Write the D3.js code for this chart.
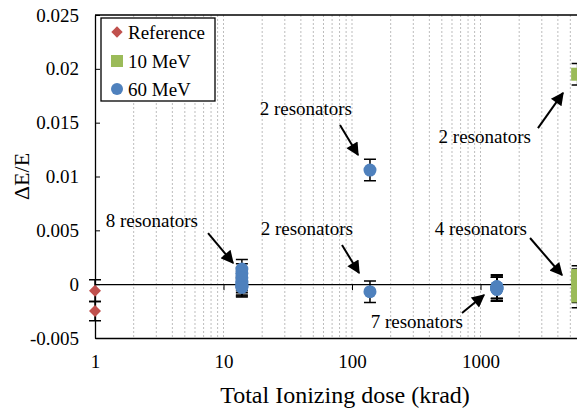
<!DOCTYPE html>
<html>
<head>
<meta charset="utf-8">
<script src="https://cdn.jsdelivr.net/npm/d3@7"></script>
<style>
  body { margin: 0; background: #fff; }
  svg { display: block; font-family: 'Liberation Serif', 'Times New Roman', serif; }
</style>
</head>
<body>
<div id="app"></div>
<script>
'use strict'

// Data
const referenceDose = [1, 1];
const referenceShift = [-0.0006, -0.0025];
const referenceError = [0.001, 0.0009];

const mev10Dose = [5700, 5700, 5700, 5700, 5700];
const mev10Shift = [0.0195, 0.0008, 0.0005, -0.0006, -0.0011];
const mev10Error = [0.001, 0.0009, 0.0009, 0.0011, 0.0011];

const mev60Dose = [13.9, 13.9, 13.9, 13.9, 13.9, 13.9, 13.9, 13.9,
                   138, 138,
                   1340, 1340, 1340, 1340, 1340, 1340, 1340];
const mev60Shift = [0.0014, 0.001, 0.0006, 0.0003, 0.0001, -0.0001, -0.0002, -0.0003,
                    0.0106, -0.0007,
                    -0.00024, -0.00024, -0.00024, -0.00046, -0.00046, -0.00046, -0.00046];
const mev60Error = [0.0009, 0.0009, 0.0009, 0.0009, 0.0009, 0.0009, 0.0009, 0.0009,
                    0.001, 0.001,
                    0.0011, 0.0011, 0.0011, 0.0011, 0.0011, 0.0011, 0.0011];

const xTicks = [1, 10, 100, 1000];
const yTicks = [-0.005, 0, 0.005, 0.01, 0.015, 0.02, 0.025];

const seriesNames = ['Reference', '10 MeV', '60 MeV'];

// Annotations, in data coordinates
const noteText = ['8 resonators', '2 resonators', '2 resonators',
                  '7 resonators', '2 resonators', '4 resonators'];
const noteDose = [6.33, 100, 101.8, 731, 2470, 2300];
const noteShift = [0.00531, 0.01571, 0.00457, -0.00407, 0.01311, 0.00457];
const arrowFromDose = [7.58, 80.6, 83.6, 718, 2800, 2430];
const arrowFromShift = [0.00475, 0.01478, 0.00364, -0.00268, 0.0145, 0.00429];
const arrowToDose = [11.86, 111.4, 113.4, 1065, 4385, 4307];
const arrowToShift = [0.00197, 0.012, 0.00104, -0.00101, 0.01776, 0.00085];


class Chart {
  constructor() {
    this._width = 577;
    this._height = 414;
    this._font = 19;
  }

  errorBars(svg, dose, shift, err, x, y) {
    let idx = d3.range(dose.length);
    (svg.append('g')
      .selectAll('path')
        .data(idx)
      .enter()
        .append('path')
          .attr('fill', 'none')
          .attr('stroke', '#000')
          .attr('stroke-width', 1.5)
          .attr('d', (i) => {
            let cx = x(dose[i]);
            let y0 = y(shift[i] - err[i]);
            let y1 = y(shift[i] + err[i]);
            return `M${cx},${y0}V${y1}M${cx - 6},${y0}H${cx + 6}M${cx - 6},${y1}H${cx + 6}`;
          })
    );
  }

  render() {
    let width = this._width;
    let height = this._height;
    let fs = this._font;

    let x = d3.scaleLog().domain([1, 10000]).range([95, 609]);
    let y = d3.scaleLinear().domain([-0.005, 0.025]).range([338, 15]);

    let svg = (
      d3.select('#app')
        .append('svg')
        .attr('width', width)
        .attr('height', height)
        .attr('font-family', 'Liberation Serif, Times New Roman, serif'));

    svg.append('defs').append('marker')
      .attr('id', 'head')
      .attr('viewBox', '0 0 10 10')
      .attr('refX', 9)
      .attr('refY', 5)
      .attr('markerUnits', 'userSpaceOnUse')
      .attr('markerWidth', 16)
      .attr('markerHeight', 13)
      .attr('orient', 'auto')
      .append('path')
        .attr('d', 'M0,0L10,5L0,10Z')
        .attr('fill', '#000');

    // Draw vertical dotted grid at log ticks
    let grid = [];
    [1, 10, 100, 1000].forEach((dec) => {
      for (let k = 1; k <= 9; k++) {
        if (dec * k > 1) grid.push(dec * k);
      }
    });
    (svg.append('g')
      .selectAll('line')
        .data(grid)
      .enter()
        .append('line')
          .attr('x1', (d) => x(d))
          .attr('x2', (d) => x(d))
          .attr('y1', y(0.025))
          .attr('y2', y(-0.005))
          .attr('stroke', '#bdbdbd')
          .attr('stroke-dasharray', '2,2')
    );

    // Top border
    svg.append('line')
      .attr('x1', x(1)).attr('x2', x(10000))
      .attr('y1', y(0.025)).attr('y2', y(0.025))
      .attr('stroke', '#000').attr('stroke-width', 1.3);

    // Bottom axis with labels
    let bottom = (svg.append('g')
      .attr('transform', `translate(0,${y(-0.005)})`)
      .call(d3.axisBottom(x).tickValues(xTicks).tickFormat((d) => d)
              .tickSize(0).tickSizeOuter(0).tickPadding(17)));
    bottom.attr('font-family', null);
    bottom.select('.domain').attr('stroke-width', 1.3);
    bottom.selectAll('text').attr('font-size', fs);

    // Zero line with major ticks
    let zero = (svg.append('g')
      .attr('transform', `translate(0,${y(0)})`)
      .call(d3.axisBottom(x).tickValues([10, 100, 1000]).tickFormat('')
              .tickSize(6).tickSizeOuter(0)));
    zero.select('.domain').attr('stroke-width', 1.3);

    // Left axis
    let left = (svg.append('g')
      .attr('transform', `translate(${x(1)},0)`)
      .call(d3.axisLeft(y).tickValues(yTicks).tickFormat((d) => String(d))
              .tickSize(-5).tickSizeOuter(0).tickPadding(16)));
    left.attr('font-family', null);
    left.select('.domain').attr('stroke-width', 1.3);
    left.selectAll('text').attr('font-size', fs);

    // Axis titles
    svg.append('text')
      .attr('x', 345).attr('y', 403)
      .attr('text-anchor', 'middle')
      .attr('font-size', 24)
      .text('Total Ionizing dose (krad)');
    svg.append('text')
      .attr('transform', `translate(29,${y(0.01)}) rotate(-90)`)
      .attr('text-anchor', 'middle')
      .attr('font-size', 22)
      .text('ΔE/E');

    // Error bars first, markers on top
    this.errorBars(svg, referenceDose, referenceShift, referenceError, x, y);
    this.errorBars(svg, mev60Dose, mev60Shift, mev60Error, x, y);
    this.errorBars(svg, mev10Dose, mev10Shift, mev10Error, x, y);

    (svg.append('g')
      .selectAll('path')
        .data(d3.range(referenceDose.length))
      .enter()
        .append('path')
          .attr('d', d3.symbol(d3.symbolSquare, 72)())
          .attr('transform', (i) => `translate(${x(referenceDose[i])},${y(referenceShift[i])}) rotate(45)`)
          .attr('fill', '#C0504D')
    );
    (svg.append('g')
      .selectAll('circle')
        .data(d3.range(mev60Dose.length))
      .enter()
        .append('circle')
          .attr('cx', (i) => x(mev60Dose[i]))
          .attr('cy', (i) => y(mev60Shift[i]))
          .attr('r', 6.5)
          .attr('fill', '#4F81BD')
    );
    (svg.append('g')
      .selectAll('rect')
        .data(d3.range(mev10Dose.length))
      .enter()
        .append('rect')
          .attr('x', (i) => x(mev10Dose[i]) - 6.5)
          .attr('y', (i) => y(mev10Shift[i]) - 6.5)
          .attr('width', 13)
          .attr('height', 13)
          .attr('fill', '#9BBB59')
    );

    // Annotations
    let notes = d3.range(noteText.length);
    (svg.append('g')
      .selectAll('text')
        .data(notes)
      .enter()
        .append('text')
          .attr('x', (i) => x(noteDose[i]))
          .attr('y', (i) => y(noteShift[i]))
          .attr('text-anchor', 'end')
          .attr('font-size', fs)
          .text((i) => noteText[i])
    );
    (svg.append('g')
      .selectAll('line')
        .data(notes)
      .enter()
        .append('line')
          .attr('x1', (i) => x(arrowFromDose[i]))
          .attr('y1', (i) => y(arrowFromShift[i]))
          .attr('x2', (i) => x(arrowToDose[i]))
          .attr('y2', (i) => y(arrowToShift[i]))
          .attr('stroke', '#000')
          .attr('stroke-width', 2)
          .attr('marker-end', 'url(#head)')
    );

    // Legend
    let legend = svg.append('g');
    legend.append('rect')
      .attr('x', 101).attr('y', 18)
      .attr('width', 114).attr('height', 83)
      .attr('fill', '#fff').attr('stroke', '#000').attr('stroke-width', 1.3);
    let ly = [32, 61, 89];
    legend.append('path')
      .attr('d', d3.symbol(d3.symbolSquare, 64)())
      .attr('transform', `translate(117,${ly[0]}) rotate(45)`)
      .attr('fill', '#C0504D');
    legend.append('rect')
      .attr('x', 111).attr('y', ly[1] - 6)
      .attr('width', 12).attr('height', 12)
      .attr('fill', '#9BBB59');
    legend.append('circle')
      .attr('cx', 117).attr('cy', ly[2]).attr('r', 6)
      .attr('fill', '#4F81BD');
    (legend.selectAll('text')
        .data(seriesNames)
      .enter()
        .append('text')
          .attr('x', 128)
          .attr('y', (d, i) => ly[i] + 6.5)
          .attr('font-size', fs)
          .text((d) => d)
    );
  }
}

new Chart().render();
</script>
</body>
</html>
